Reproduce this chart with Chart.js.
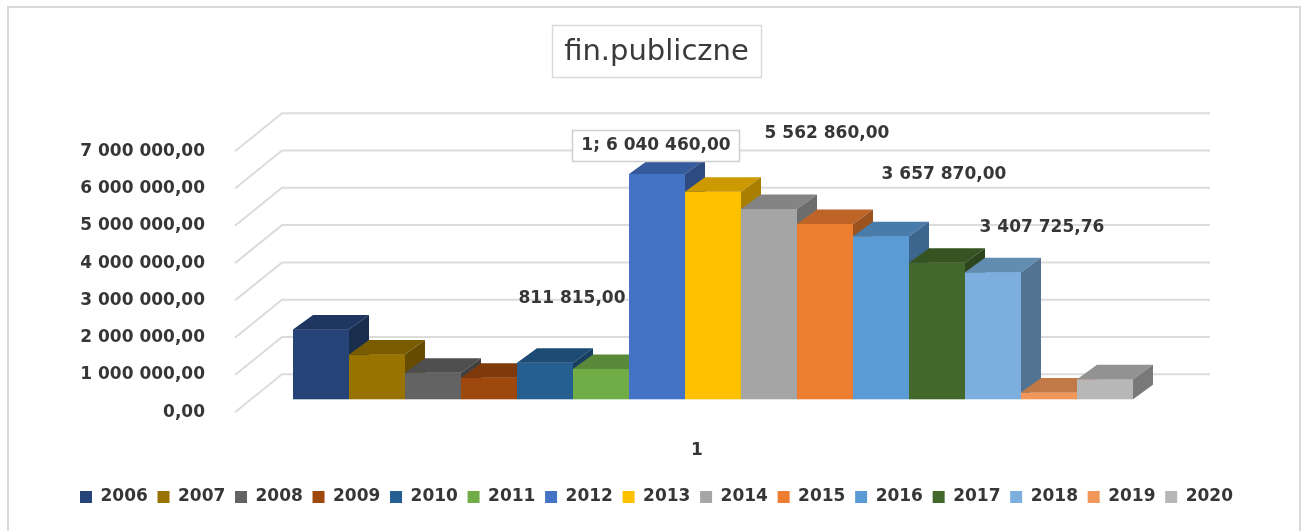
<!DOCTYPE html>
<html>
<head>
<meta charset="utf-8">
<title>fin.publiczne</title>
<script src="https://cdn.jsdelivr.net/npm/chart.js@4.4.1/dist/chart.umd.min.js"></script>
<style>
  html, body { margin: 0; padding: 0; background: #ffffff; overflow: hidden; }
  #frame { position: absolute; left: 7px; top: 6px; width: 1294px; height: 600px;
           border: 2px solid #d9d9d9; box-sizing: border-box; }
  #wrap { position: absolute; left: 0; top: 0; width: 1304px; height: 531px; }
</style>
</head>
<body>
<div id="frame"></div>
<div id="wrap"><canvas id="c" width="1304" height="531"></canvas></div>
<script>
// ---- data ----
const categories = ['1'];
const years = ['2006', '2007', '2008', '2009', '2010', '2011', '2012', '2013',
               '2014', '2015', '2016', '2017', '2018', '2019', '2020'];
const amounts = [1870000, 1200000, 713000, 580000, 980000, 811815, 6040460, 5562860,
                 5100000, 4700000, 4370000, 3657870, 3407725.76, 180000, 535000];
const seriesColors = ['#264478', '#997300', '#636363', '#9E480E', '#255E91', '#70AD47',
                      '#4472C4', '#FFC000', '#A5A5A5', '#ED7D31', '#5B9BD5', '#43682B',
                      '#7CAFDD', '#F1975A', '#B7B7B7'];
const yTicks = [0, 1000000, 2000000, 3000000, 4000000, 5000000, 6000000, 7000000];
const titleText = 'fin.publiczne';

// years whose value is printed, and where each label sits relative to its column top
const labelledYears = ['2011', '2012', '2013', '2017', '2018'];
const labelShift = [[-29, -70], [-1, -28], [114, -58], [7, -88], [49, -44.5]];
const labelWithCategory = ['2012'];

// ---- look ----
const FONT = "'DejaVu Sans', sans-serif";
const TEXT = '#363636';
const BAR_DX = 20, BAR_DY = 14.5;       // depth of each column
const WALL_DX = 47, WALL_RIGHT = 19;    // depth of back wall, overhang at right
const BACK_RISE = 25, FRONT_DROP = 13;  // wall back/front edges relative to column base
const TITLE_SIZE = 29, TITLE_PAD_TOP = 35, TITLE_PAD_BOTTOM = 68.4;

Chart.defaults.font.family = FONT;

function fmtPL(v) {
  const parts = Math.abs(v).toFixed(2).split('.');
  const int = parts[0].replace(/\B(?=(\d{3})+(?!\d))/g, ' ');
  return (v < 0 ? '-' : '') + int + ',' + parts[1];
}

function shade(hex, f) {
  const n = parseInt(hex.slice(1), 16);
  const r = Math.round(((n >> 16) & 255) * f);
  const g = Math.round(((n >> 8) & 255) * f);
  const b = Math.round((n & 255) * f);
  return `rgb(${r},${g},${b})`;
}

// boxed title frame
const titleFrame = {
  id: 'titleFrame',
  beforeDraw(chart) {
    const tb = chart.titleBlock;
    if (!tb) return;
    const ctx = chart.ctx;
    ctx.save();
    ctx.font = `normal ${TITLE_SIZE}px ${FONT}`;
    const w = ctx.measureText(titleText).width;
    const cx = (tb.left + tb.right) / 2;
    const midY = tb.top + TITLE_PAD_TOP + TITLE_SIZE * 1.2 / 2;
    ctx.fillStyle = '#ffffff';
    ctx.strokeStyle = '#d9d9d9';
    ctx.lineWidth = 1.5;
    const x0 = Math.round(cx - w / 2 - 12) + 0.5, x1 = Math.round(cx + w / 2 + 12) + 0.5;
    const y0 = Math.round(midY - 27) + 0.5, y1 = Math.round(midY + 25) + 0.5;
    ctx.fillRect(x0, y0, x1 - x0, y1 - y0);
    ctx.strokeRect(x0, y0, x1 - x0, y1 - y0);
    ctx.restore();
  }
};

// side wall and back wall with gridlines
const walls = {
  id: 'walls',
  beforeDatasetsDraw(chart) {
    const ys = chart.scales.y, a = chart.chartArea, ctx = chart.ctx;
    const backL = a.left + WALL_DX, backR = a.right + WALL_RIGHT;
    ctx.save();
    ctx.strokeStyle = '#dcdcdc';
    ctx.lineWidth = 2;
    ys.ticks.forEach(t => {
      const p = ys.getPixelForValue(t.value);
      ctx.beginPath();
      ctx.moveTo(a.left, p + FRONT_DROP);
      ctx.lineTo(backL, p - BACK_RISE);
      ctx.lineTo(backR, p - BACK_RISE);
      ctx.stroke();
    });
    ctx.restore();
  }
};

// extrude every column: front (library element), top face, right face; left to right
const columns3d = {
  id: 'columns3d',
  afterDatasetsDraw(chart) {
    const ctx = chart.ctx;
    ctx.save();
    chart.data.datasets.forEach((ds, i) => {
      const el = chart.getDatasetMeta(i).data[0];
      if (!el) return;
      const {x, y, base, width} = el.getProps(['x', 'y', 'base', 'width'], true);
      const l = x - width / 2, r = x + width / 2;
      const col = seriesColors[i];
      el.draw(ctx);
      ctx.fillStyle = shade(col, 0.8);
      ctx.beginPath();
      ctx.moveTo(l, y); ctx.lineTo(r, y);
      ctx.lineTo(r + BAR_DX, y - BAR_DY); ctx.lineTo(l + BAR_DX, y - BAR_DY);
      ctx.closePath(); ctx.fill();
      ctx.fillStyle = shade(col, 0.66);
      ctx.beginPath();
      ctx.moveTo(r, y); ctx.lineTo(r + BAR_DX, y - BAR_DY);
      ctx.lineTo(r + BAR_DX, base - BAR_DY); ctx.lineTo(r, base);
      ctx.closePath(); ctx.fill();
    });
    ctx.restore();
  }
};

// value labels
const valueLabels = {
  id: 'valueLabels',
  afterDatasetsDraw(chart) {
    const ctx = chart.ctx;
    ctx.save();
    ctx.font = `bold 17px ${FONT}`;
    ctx.textAlign = 'center';
    ctx.textBaseline = 'middle';
    labelledYears.forEach((yr, k) => {
      const i = years.indexOf(yr);
      const el = chart.getDatasetMeta(i).data[0];
      const {x, y} = el.getProps(['x', 'y'], true);
      const v = chart.data.datasets[i].data[0];
      let text = fmtPL(v);
      if (labelWithCategory.includes(yr)) text = categories[0] + '; ' + text;
      const lx = x + labelShift[k][0], ly = y + labelShift[k][1];
      if (labelWithCategory.includes(yr)) {
        const w = ctx.measureText(text).width;
        const bx = Math.round(lx - w / 2 - 9) + 0.5, by = Math.round(ly - 16) + 0.5;
        const bw = Math.round(w + 18), bh = 31;
        ctx.fillStyle = '#ffffff';
        ctx.fillRect(bx, by, bw, bh);
        ctx.strokeStyle = '#cfcfcf';
        ctx.lineWidth = 1.5;
        ctx.strokeRect(bx, by, bw, bh);
      }
      ctx.fillStyle = TEXT;
      ctx.fillText(text, lx, ly);
    });
    ctx.restore();
  }
};

const datasets = years.map((yr, i) => ({
  label: yr,
  data: [amounts[i]],
  backgroundColor: seriesColors[i],
  borderWidth: 0,
  categoryPercentage: 840 / 956,
  barPercentage: 1
}));

new Chart(document.getElementById('c'), {
  type: 'bar',
  data: { labels: categories, datasets },
  options: {
    responsive: false,
    animation: false,
    devicePixelRatio: 1,
    layout: { padding: { left: 9, right: 0, top: 0, bottom: 15.5 } },
    plugins: {
      title: {
        display: true,
        text: titleText,
        color: '#3a3a3a',
        font: { family: FONT, size: TITLE_SIZE, weight: 'normal' },
        padding: { top: TITLE_PAD_TOP, bottom: TITLE_PAD_BOTTOM }
      },
      legend: {
        display: true,
        position: 'bottom',
        labels: {
          boxWidth: 12, boxHeight: 12, padding: 9.7,
          color: TEXT,
          font: { family: FONT, size: 17, weight: 'bold' }
        }
      },
      tooltip: { enabled: false }
    },
    scales: {
      x: {
        grid: { display: false },
        border: { display: false },
        ticks: {
          color: TEXT, padding: 33, labelOffset: -16,
          font: { family: FONT, size: 17, weight: 'bold' }
        },
        afterFit(s) { s.height = 79.5; }
      },
      y: {
        min: 0, max: 7000000,
        grid: { display: false },
        border: { display: false },
        afterBuildTicks(s) { s.ticks = yTicks.map(v => ({ value: v })); },
        ticks: {
          color: TEXT, padding: 22, labelOffset: 13,
          font: { family: FONT, size: 17, weight: 'bold' },
          callback: v => fmtPL(v)
        },
        afterFit(s) { s.width = 226; }
      },
      y2: {
        position: 'right',
        min: 0, max: 1,
        grid: { display: false },
        border: { display: false },
        ticks: { display: false },
        afterFit(s) { s.width = 113; }
      }
    }
  },
  plugins: [titleFrame, walls, columns3d, valueLabels]
});
</script>
</body>
</html>
